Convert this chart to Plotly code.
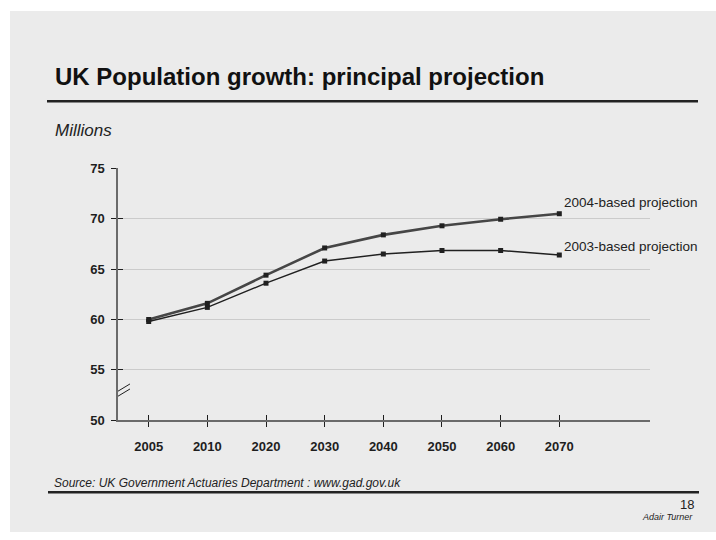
import plotly.graph_objects as go

# Principal projection of UK population, millions
years = ["2005", "2010", "2020", "2030", "2040", "2050", "2060", "2070"]
proj_2004 = [60.0, 61.6, 64.4, 67.1, 68.4, 69.3, 69.95, 70.5]
proj_2003 = [59.8, 61.2, 63.6, 65.8, 66.5, 66.85, 66.85, 66.4]
series_names = ["2004-based projection", "2003-based projection"]
y_ticks = [50, 55, 60, 65, 70, 75]

W, H = 716, 540
BG = "#ebebeb"
INK = "#1e1e1e"
AXIS = "#6a6a6a"
FONT = "Liberation Sans"

xi = list(range(len(years)))
x_range = [-0.523, 8.546]
y_range = [50, 75]

# plot area in pixels
px_left, px_right = 118, 650
px_top, px_bottom = 166, 425


def px(x):
    return x / W


def py(y):
    return 1 - y / H


fig = go.Figure()

fig.add_trace(go.Scatter(
    x=xi, y=proj_2004, mode="lines+markers", name=series_names[0],
    line=dict(color="#464646", width=2.6),
    marker=dict(symbol="square", size=5, color="#202020"),
    hoverinfo="skip", cliponaxis=False,
))
fig.add_trace(go.Scatter(
    x=xi, y=proj_2003, mode="lines+markers", name=series_names[1],
    line=dict(color="#202020", width=1.4),
    marker=dict(symbol="square", size=5, color="#202020"),
    hoverinfo="skip", cliponaxis=False,
))

axis_font = dict(family=FONT, size=13, color=INK)

fig.update_layout(
    width=W, height=H,
    margin=dict(l=0, r=0, t=0, b=0),
    paper_bgcolor="white",
    plot_bgcolor="rgba(0,0,0,0)",
    showlegend=False,
    xaxis=dict(
        domain=[px(px_left), px(px_right)],
        range=x_range, tickmode="array", tickvals=xi,
        ticktext=["<b>%s</b>" % y for y in years],
        tickfont=axis_font, ticks="outside", ticklen=5, tickwidth=1,
        tickcolor=INK, showline=True, linecolor=AXIS, linewidth=2,
        showgrid=False, zeroline=False, anchor="y", ticklabelstandoff=8,
    ),
    yaxis=dict(
        domain=[py(px_bottom), py(px_top)],
        range=y_range, tickmode="array", tickvals=y_ticks,
        ticktext=["<b>%d</b>" % v for v in y_ticks],
        tickfont=axis_font, ticks="outside", ticklen=5, tickwidth=1,
        tickcolor=INK, showline=True, linecolor=AXIS, linewidth=1.5,
        showgrid=True, gridcolor="#cbcbcb", gridwidth=1,
        zeroline=False, anchor="x", ticklabelstandoff=4,
    ),
    # twin axes carry the inner half of each tick mark
    xaxis2=dict(
        domain=[px(px_left), px(px_right)], overlaying="x", anchor="y",
        range=x_range, tickmode="array", tickvals=xi, showticklabels=False,
        ticks="inside", ticklen=5, tickwidth=1, tickcolor=INK,
        showgrid=False, zeroline=False, showline=False,
    ),
    yaxis2=dict(
        domain=[py(px_bottom), py(px_top)], overlaying="y", anchor="x",
        range=y_range, tickmode="array", tickvals=y_ticks, showticklabels=False,
        ticks="inside", ticklen=5, tickwidth=1, tickcolor=INK,
        showgrid=False, zeroline=False, showline=False,
    ),
)

# dummy trace so the twin axes render
fig.add_trace(go.Scatter(x=[xi[0]], y=[y_range[0]], xaxis="x2", yaxis="y2",
                         mode="markers", marker=dict(opacity=0),
                         hoverinfo="skip", showlegend=False))

shapes = [
    # slide background
    dict(type="rect", xref="paper", yref="paper", x0=px(10), x1=1,
         y0=0, y1=py(4), fillcolor=BG, line=dict(width=0), layer="below"),
    # rule under the title
    dict(type="line", xref="paper", yref="paper", x0=px(47), x1=px(698),
         y0=py(97), y1=py(97), line=dict(color="#222222", width=2.5)),
    # rule under the source note
    dict(type="line", xref="paper", yref="paper", x0=px(48), x1=px(699),
         y0=py(499), y1=py(499), line=dict(color="#222222", width=2.5)),
]

# axis break marks
for y0, y1 in [(52.6, 53.6), (52.1, 53.1)]:
    shapes.append(dict(type="line", xref="x", yref="y", x0=-0.603, x1=-0.319,
                       y0=y0, y1=y1, line=dict(color=INK, width=1)))
fig.update_layout(shapes=shapes)

annotations = [
    dict(text="<b>UK Population growth: principal projection</b>",
         x=px(53), y=py(72), xref="paper", yref="paper", xanchor="left",
         yanchor="middle", showarrow=False,
         font=dict(family=FONT, size=24, color="#111111")),
    dict(text="<i>Millions</i>", x=px(53), y=py(127), xref="paper",
         yref="paper", xanchor="left", yanchor="middle", showarrow=False,
         font=dict(family=FONT, size=17, color="#222222")),
    dict(text="<i>Source: UK Government Actuaries Department : www.gad.gov.uk</i>",
         x=px(52), y=py(490), xref="paper", yref="paper", xanchor="left",
         yanchor="middle", showarrow=False,
         font=dict(family=FONT, size=12, color="#222222")),
    dict(text="18", x=px(696), y=py(512), xref="paper", yref="paper",
         xanchor="right", yanchor="middle", showarrow=False,
         font=dict(family=FONT, size=13, color="#222222")),
    dict(text="<i>Adair Turner</i>", x=px(695), y=py(525), xref="paper",
         yref="paper", xanchor="right", yanchor="middle", showarrow=False,
         font=dict(family=FONT, size=9, color="#222222")),
]

# series labels at the end of each line
for name, vals, dy in [(series_names[0], proj_2004, 11), (series_names[1], proj_2003, 9)]:
    annotations.append(dict(
        text=name, x=xi[-1], y=vals[-1], xref="x", yref="y",
        xanchor="left", yanchor="middle", xshift=3, yshift=dy,
        showarrow=False, font=dict(family=FONT, size=13.5, color="#222222")))

fig.update_layout(annotations=annotations)

fig.write_html("out.html")
